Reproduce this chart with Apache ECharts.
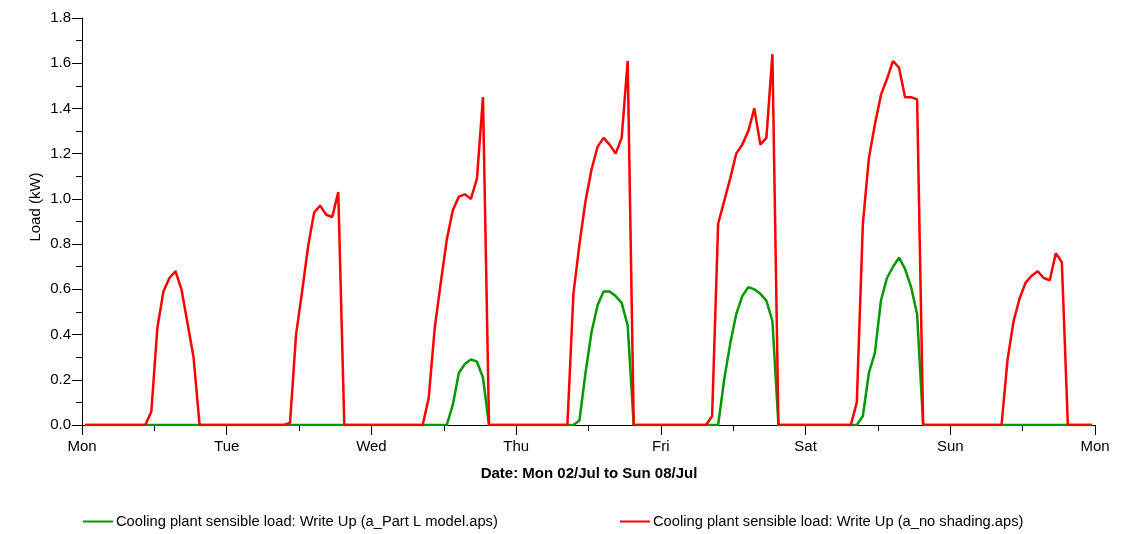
<!DOCTYPE html>
<html>
<head>
<meta charset="utf-8">
<script src="https://cdn.jsdelivr.net/npm/echarts@6/dist/echarts.min.js"></script>
<style>
  html, body { margin: 0; padding: 0; background: #ffffff; }
  #chart { width: 1132px; height: 534px; }
</style>
</head>
<body>
<div id="chart"></div>
<script>
// Day labels on the time axis (one per 24 h)
const dayLabels = ['Mon', 'Tue', 'Wed', 'Thu', 'Fri', 'Sat', 'Sun', 'Mon'];
const yTickLabels = ['0.0', '0.2', '0.4', '0.6', '0.8', '1.0', '1.2', '1.4', '1.6', '1.8'];

const partLName = 'Cooling plant sensible load: Write Up (a_Part L model.aps)';
const noShadingName = 'Cooling plant sensible load: Write Up (a_no shading.aps)';

// Hourly cooling plant sensible load (kW), hours 00..23 of each day — Part L model
const partLMon = [0,0,0,0,0,0,0,0,0,0,0,0,0,0,0,0,0,0,0,0,0,0,0,0];
const partLTue = [0,0,0,0,0,0,0,0,0,0,0,0,0,0,0,0,0,0,0,0,0,0,0,0];
const partLWed = [0,0,0,0,0,0,0,0,0,0,0,0,0,0.09,0.23,0.27,0.29,0.28,0.21,0,0,0,0,0];
const partLThu = [0,0,0,0,0,0,0,0,0,0,0.02,0.23,0.41,0.53,0.59,0.59,0.57,0.54,0.44,0,0,0,0,0];
const partLFri = [0,0,0,0,0,0,0,0,0,0,0.20,0.36,0.49,0.57,0.61,0.60,0.58,0.55,0.46,0,0,0,0,0];
const partLSat = [0,0,0,0,0,0,0,0,0,0.04,0.23,0.32,0.55,0.65,0.70,0.74,0.69,0.61,0.49,0,0,0,0,0];
const partLSun = [0,0,0,0,0,0,0,0,0,0,0,0,0,0,0,0,0,0,0,0,0,0,0,0];

// Hourly cooling plant sensible load (kW) — no shading model
const noShadingMon = [0,0,0,0,0,0,0,0,0,0,0,0.06,0.43,0.59,0.65,0.68,0.60,0.45,0.30,0,0,0,0,0];
const noShadingTue = [0,0,0,0,0,0,0,0,0,0,0.01,0.40,0.59,0.79,0.94,0.97,0.93,0.92,1.03,0,0,0,0,0];
const noShadingWed = [0,0,0,0,0,0,0,0,0,0.12,0.43,0.63,0.82,0.95,1.01,1.02,1.00,1.09,1.45,0,0,0,0,0];
const noShadingThu = [0,0,0,0,0,0,0,0,0,0.58,0.80,0.99,1.13,1.23,1.27,1.24,1.20,1.27,1.61,0,0,0,0,0];
const noShadingFri = [0,0,0,0,0,0,0,0,0.04,0.89,0.99,1.09,1.20,1.24,1.30,1.40,1.24,1.27,1.64,0,0,0,0,0];
const noShadingSat = [0,0,0,0,0,0,0,0,0.10,0.89,1.18,1.33,1.46,1.53,1.61,1.58,1.45,1.45,1.44,0,0,0,0,0];
const noShadingSun = [0,0,0,0,0,0,0,0,0,0.29,0.46,0.56,0.63,0.66,0.68,0.65,0.64,0.76,0.72,0,0,0,0,0];

// Each hourly value is plotted at the middle of its hour
function toPoints(days) {
  const all = [].concat(...days);
  return all.map((v, i) => [i + 0.5, v]);
}

const partLData = toPoints([partLMon, partLTue, partLWed, partLThu, partLFri, partLSat, partLSun]);
const noShadingData = toPoints([noShadingMon, noShadingTue, noShadingWed, noShadingThu, noShadingFri, noShadingSat, noShadingSun]);

const FONT = '"Liberation Sans", Arial, sans-serif';
const FS = 15;
const LEGEND_FS = 14.7;
const GREEN = '#009900';
const RED = '#ff0000';

const chart = echarts.init(document.getElementById('chart'), null, { renderer: 'canvas' });

chart.setOption({
  animation: false,
  backgroundColor: '#ffffff',
  grid: { left: 82, right: 37, top: 18, bottom: 109, containLabel: false },
  textStyle: { fontFamily: FONT },
  xAxis: {
    type: 'value',
    min: 0,
    max: 168,
    interval: 24,
    axisLine: { show: true, lineStyle: { color: '#000000', width: 1 } },
    axisTick: { show: true, length: 10, lineStyle: { color: '#000000', width: 1 } },
    minorTick: { show: true, splitNumber: 2, length: 6, lineStyle: { color: '#000000', width: 1 } },
    splitLine: { show: false },
    minorSplitLine: { show: false },
    axisLabel: {
      color: '#000000',
      fontFamily: FONT,
      fontSize: FS,
      margin: 14,
      formatter: (v) => dayLabels[Math.round(v / 24)]
    }
  },
  yAxis: {
    type: 'value',
    min: 0,
    max: 1.8,
    interval: 0.2,
    axisLine: { show: true, lineStyle: { color: '#000000', width: 1 } },
    axisTick: { show: true, length: 10, lineStyle: { color: '#000000', width: 1 } },
    minorTick: { show: true, splitNumber: 2, length: 6, lineStyle: { color: '#000000', width: 1 } },
    splitLine: { show: false },
    minorSplitLine: { show: false },
    axisLabel: {
      color: '#000000',
      fontFamily: FONT,
      fontSize: FS,
      margin: 11,
      formatter: (v) => yTickLabels[Math.round(v / 0.2)]
    }
  },
  legend: [
    {
      data: [partLName],
      left: 83,
      top: 514,
      icon: 'rect',
      itemWidth: 30,
      itemHeight: 2,
      itemGap: 0,
      padding: 0,
      textStyle: { color: '#000000', fontFamily: FONT, fontSize: LEGEND_FS, padding: [0, 0, 0, -2] }
    },
    {
      data: [noShadingName],
      left: 620,
      top: 514,
      icon: 'rect',
      itemWidth: 30,
      itemHeight: 2,
      itemGap: 0,
      padding: 0,
      textStyle: { color: '#000000', fontFamily: FONT, fontSize: LEGEND_FS, padding: [0, 0, 0, -2] }
    }
  ],
  graphic: [
    {
      type: 'text',
      x: 589,
      y: 474,
      style: {
        text: 'Date: Mon 02/Jul to Sun 08/Jul',
        fill: '#000000',
        font: 'bold ' + FS + 'px ' + FONT,
        align: 'center',
        verticalAlign: 'middle'
      }
    },
    {
      type: 'text',
      x: 36,
      y: 207,
      rotation: Math.PI / 2,
      style: {
        text: 'Load (kW)',
        fill: '#000000',
        font: FS + 'px ' + FONT,
        align: 'center',
        verticalAlign: 'middle'
      }
    }
  ],
  series: [
    {
      name: partLName,
      type: 'line',
      data: partLData,
      showSymbol: false,
      symbol: 'none',
      lineStyle: { color: GREEN, width: 2.5 },
      itemStyle: { color: GREEN },
      z: 2
    },
    {
      name: noShadingName,
      type: 'line',
      data: noShadingData,
      showSymbol: false,
      symbol: 'none',
      lineStyle: { color: RED, width: 2.5 },
      itemStyle: { color: RED },
      z: 3
    }
  ]
});
</script>
</body>
</html>
